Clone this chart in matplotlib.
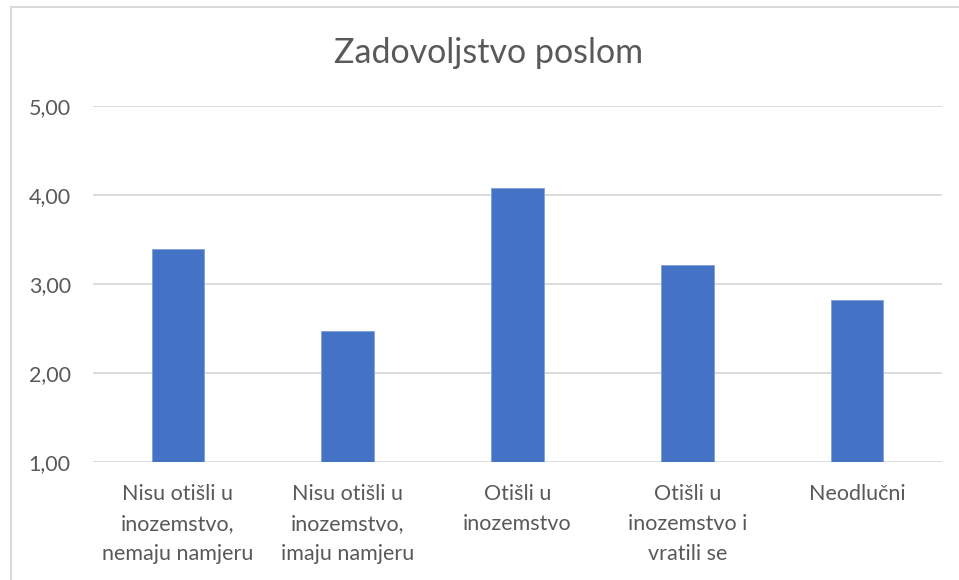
import matplotlib
matplotlib.use("Agg")
import matplotlib.pyplot as plt
from matplotlib.patches import Rectangle

categories = ["Nisu otišli u\ninozemstvo,\nnemaju namjeru",
              "Nisu otišli u\ninozemstvo,\nimaju namjeru",
              "Otišli u\ninozemstvo",
              "Otišli u\ninozemstvo i\nvratili se",
              "Neodlučni"]
values = [3.39, 2.47, 4.08, 3.21, 2.82]
yticks = [1, 2, 3, 4, 5]
ytick_labels = ["1,00", "2,00", "3,00", "4,00", "5,00"]
title = "Zadovoljstvo poslom"

plt.rcParams['font.family'] = ['Lato', 'DejaVu Sans']
text_color = "#595959"
grid_color = "#D9D9D9"

W, H = 959, 580
fig = plt.figure(figsize=(W / 100, H / 100), dpi=100)
ax = fig.add_axes([93 / W, 118 / H, (942 - 93) / W, (462 - 106) / H])

x = list(range(len(categories)))
ax.bar(x, [v - 1 for v in values], bottom=1, width=0.31, color="#4472C4",
       edgecolor="#7F9FD9", linewidth=0.6, zorder=3)

ax.set_xlim(-0.5, len(categories) - 0.5)
ax.set_ylim(1, 5)
ax.set_yticks(yticks)
ax.set_yticklabels(ytick_labels)
ax.set_xticks(x)
ax.set_xticklabels(categories, linespacing=1.62, va="top")
ax.yaxis.grid(True, color=grid_color, linewidth=1.3, zorder=0)
for s in ax.spines.values():
    s.set_visible(False)
ax.tick_params(axis="both", length=0, labelsize=15.5, labelcolor=text_color)
ax.tick_params(axis="y", pad=16)
ax.tick_params(axis="x", pad=16)

fig.text(489 / W, 1 - 53 / H, title, ha="center", va="center",
         fontsize=24.5, color=text_color)

fig.patches.append(Rectangle((11 / W, -0.5), 2, 1.5 - 7 / H + 0.0,
                             transform=fig.transFigure, fill=False,
                             edgecolor=grid_color, linewidth=1.5))

fig.savefig("out.png", dpi=100)
